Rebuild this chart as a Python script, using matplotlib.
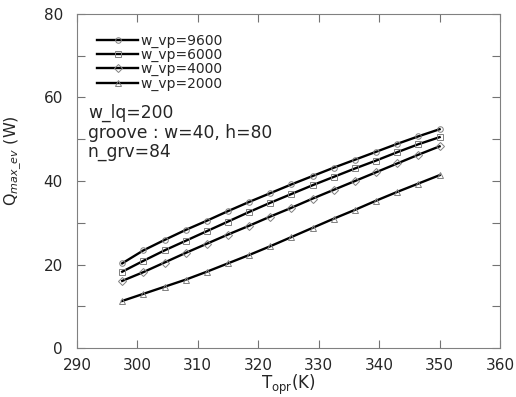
import numpy as np
import matplotlib.pyplot as plt
from matplotlib.ticker import MultipleLocator

plt.rcParams['font.family'] = ['DejaVu Sans']

# temperature (K)
t_opr = [297.5, 301, 304.5, 308, 311.5, 315, 318.5, 322, 325.5, 329,
         332.5, 336, 339.5, 343, 346.5, 350]
# Q_max_ev (W) for each vapour width
q_9600 = [20.3, 23.4, 25.9, 28.3, 30.5, 32.8, 35.0, 37.1, 39.2, 41.2,
          43.2, 45.1, 47.0, 48.9, 50.7, 52.4]
q_6000 = [18.3, 20.9, 23.4, 25.7, 28.0, 30.3, 32.6, 34.8, 36.9, 39.0,
          41.0, 43.0, 44.9, 46.9, 48.8, 50.5]
q_4000 = [16.1, 18.2, 20.5, 22.8, 25.0, 27.2, 29.3, 31.5, 33.6, 35.8,
          37.9, 40.0, 42.1, 44.2, 46.3, 48.3]
q_2000 = [11.3, 13.0, 14.7, 16.4, 18.3, 20.3, 22.3, 24.4, 26.6, 28.8,
          31.0, 33.1, 35.3, 37.4, 39.4, 41.4]

series = [("w_vp=9600", q_9600, "o"),
          ("w_vp=6000", q_6000, "s"),
          ("w_vp=4000", q_4000, "D"),
          ("w_vp=2000", q_2000, "^")]

fig = plt.figure(figsize=(5.16, 3.97), dpi=100)
ax = fig.add_axes([0.149, 0.123, 0.82, 0.842])

for lab, q, m in series:
    ax.plot(t_opr, q, color="black", lw=1.7, marker=m, ms=4,
            mfc="none", mec="0.5", mew=0.7, label=lab)

ax.set_xlim(290, 360)
ax.set_ylim(0, 80)
ax.xaxis.set_major_locator(MultipleLocator(10))
ax.yaxis.set_major_locator(MultipleLocator(20))
ax.yaxis.set_minor_locator(MultipleLocator(10))
ax.tick_params(which="both", direction="in", top=True, right=True,
               labelsize=11, color="0.45", width=0.8, length=6,
               labelcolor="0.15")
ax.tick_params(axis="y", pad=10)
ax.tick_params(axis="x", pad=7)
for s in ax.spines.values():
    s.set_color("0.5")
    s.set_linewidth(0.8)

ax.set_xlabel(r"T$_{\rm opr}$(K)", fontsize=12, labelpad=0, color="0.15")
ax.set_ylabel(r"Q$_{max\_ev}$ (W)", fontsize=11.5, color="0.15")
ax.yaxis.set_label_coords(-0.125, 0.56)

ax.legend(loc="upper left", frameon=False, fontsize=10, handlelength=3.0,
          handletextpad=0.15, labelspacing=0.0, borderaxespad=0,
          borderpad=0, bbox_to_anchor=(0.047, 0.94), labelcolor="0.15")

notes = ["w_lq=200", "groove : w=40, h=80", "n_grv=84"]
note_y = [0.704, 0.644, 0.587]
for txt, yy in zip(notes, note_y):
    ax.text(0.026, yy, txt, transform=ax.transAxes, fontsize=12.3,
            va="center", color="0.15")

fig.savefig("out.png", dpi=100)
